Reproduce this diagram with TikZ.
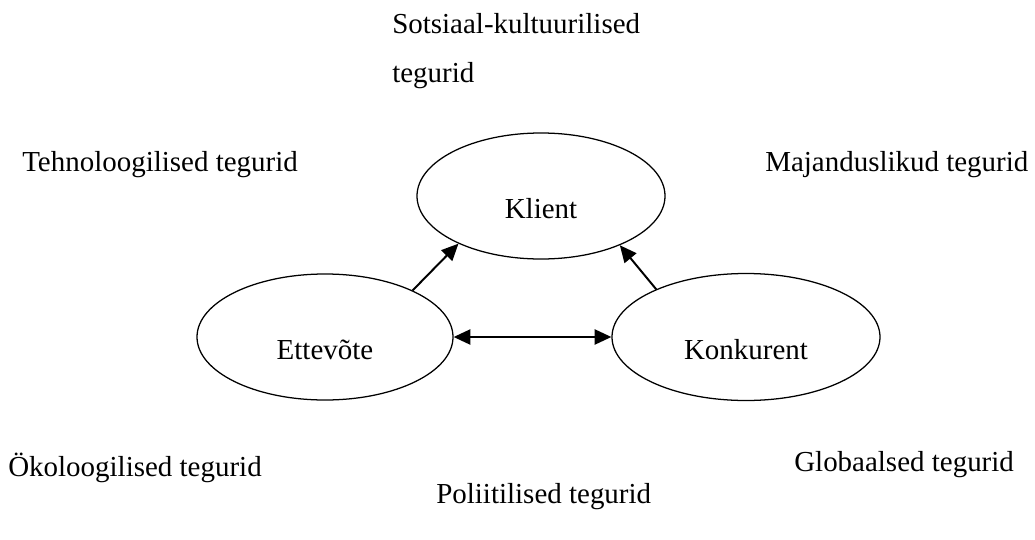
\documentclass[tikz,border=0pt]{standalone}
\usepackage{fontspec}
\setmainfont{Liberation Serif}
\usetikzlibrary{shapes.geometric,arrows.meta}
\begin{document}
\begin{tikzpicture}[x=0.025cm,y=-0.025cm,
  every node/.style={font=\fontsize{20.6}{24}\selectfont},
  lbl/.style={anchor=base west, inner sep=0pt},
  oval/.style={ellipse, draw, line width=0.9pt, inner sep=0pt, text height=1.1cm, text depth=0pt},
  conn/.style={line width=1.4pt, -{Triangle[length=0.42cm,width=0.38cm]}},
  conn2/.style={line width=1.4pt, {Triangle[length=0.42cm,width=0.38cm]}-{Triangle[length=0.42cm,width=0.38cm]}}]
\useasboundingbox (0,0) rectangle (1035,540);
% factor labels
\node[lbl] (soc1) at (392,33) {Sotsiaal-kultuurilised};
\node[lbl] (soc2) at (392,82) {tegurid};
\node[lbl] (tech) at (22,171) {Tehnoloogilised tegurid};
\node[lbl] (maj) at (765,171) {Majanduslikud tegurid};
\node[lbl] (oko) at (8,476) {Ökoloogilised tegurid};
\node[lbl] (glob) at (794,471) {Globaalsed tegurid};
\node[lbl] (pol) at (436,503) {Poliitilised tegurid};
% ellipses
\node[oval, minimum width=248*0.025cm, minimum height=126*0.025cm] (K) at (541,196) {Klient};
\node[oval, minimum width=256*0.025cm, minimum height=126*0.025cm] (E) at (325,337) {Ettevõte};
\node[oval, minimum width=268*0.025cm, minimum height=127*0.025cm] (C) at (746,337) {Konkurent};
% connectors
\draw[conn] (E.28) -- (K.210);
\draw[conn] (C.152) -- (K.328);
\draw[conn2] (E.east) -- (C.west);
\end{tikzpicture}
\end{document}
